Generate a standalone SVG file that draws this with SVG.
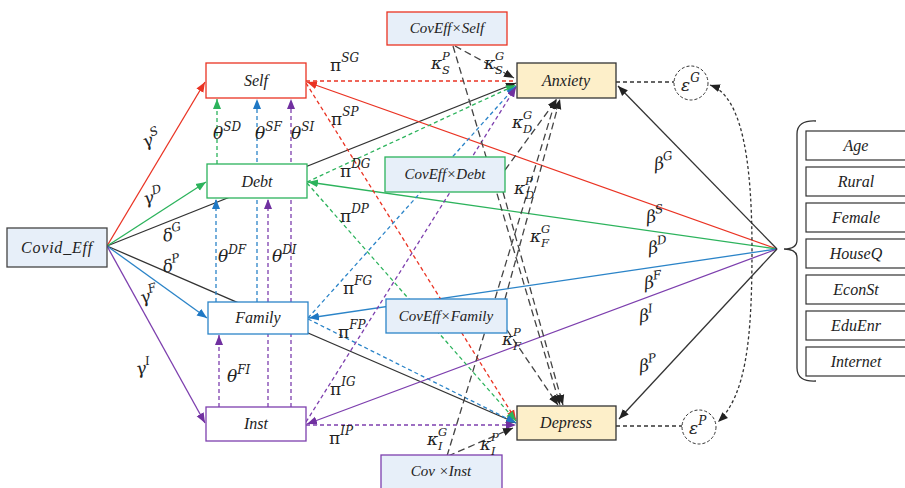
<svg xmlns="http://www.w3.org/2000/svg" width="905" height="488" viewBox="0 0 905 488">
<style>
.t{font-family:"Liberation Serif","DejaVu Serif",serif;font-style:italic;font-size:16px;fill:#222;text-anchor:middle}
.tc{font-family:"Liberation Serif","DejaVu Serif",serif;font-style:italic;font-size:15px;fill:#222;text-anchor:middle}
.m{font-family:"DejaVu Serif","Liberation Serif",serif;font-style:italic;font-size:17px;fill:#222}
.s{font-size:12px}
.ks{font-family:"DejaVu Serif","Liberation Serif",serif;font-style:italic;font-size:11.5px;fill:#222}
.up{font-style:normal}
.ln{fill:none;stroke-width:1.3}
.r{stroke:#ea3323}.g{stroke:#2cb35c}.b{stroke:#2b84c8}.p{stroke:#7d3fae}.k{stroke:#333}
.d{stroke-dasharray:4 3}
.kd{stroke-dasharray:7 4;stroke:#444}
.box{fill:#fff;stroke-width:1.3}
.cov{fill:#e7eff9;stroke-width:1.3}
.out{fill:#fdefc9;stroke:#333;stroke-width:1.3}
.ctl{fill:#fff;stroke:#333;stroke-width:1.2}
</style>
<defs>
<marker id="aR" viewBox="0 0 10 10" refX="10" refY="5" markerWidth="10" markerHeight="10" markerUnits="userSpaceOnUse" orient="auto"><path d="M0,1 L10,5 L0,9 z" fill="#ea3323"/></marker>
<marker id="aG" viewBox="0 0 10 10" refX="10" refY="5" markerWidth="10" markerHeight="10" markerUnits="userSpaceOnUse" orient="auto"><path d="M0,1 L10,5 L0,9 z" fill="#2cb35c"/></marker>
<marker id="aB" viewBox="0 0 10 10" refX="10" refY="5" markerWidth="10" markerHeight="10" markerUnits="userSpaceOnUse" orient="auto"><path d="M0,1 L10,5 L0,9 z" fill="#1f78c4"/></marker>
<marker id="aP" viewBox="0 0 10 10" refX="10" refY="5" markerWidth="10" markerHeight="10" markerUnits="userSpaceOnUse" orient="auto"><path d="M0,1 L10,5 L0,9 z" fill="#7030a0"/></marker>
<marker id="aK" viewBox="0 0 10 10" refX="10" refY="5" markerWidth="10" markerHeight="10" markerUnits="userSpaceOnUse" orient="auto-start-reverse"><path d="M0,1 L10,5 L0,9 z" fill="#222"/></marker>
</defs>
<rect width="905" height="488" fill="#fff"/>

<g id="connectors">
  <path class="ln k" d="M107,246 L516,83" marker-end="url(#aK)"/>
  <path class="ln k" d="M107,246 L516,423" marker-end="url(#aK)"/>
  <path class="ln r" d="M107,246 L205,82" marker-end="url(#aR)"/>
  <path class="ln g" d="M107,246 L206,182" marker-end="url(#aG)"/>
  <path class="ln b" d="M107,246 L207,318" marker-end="url(#aB)"/>
  <path class="ln p" d="M107,246 L205,423" marker-end="url(#aP)"/>
  <path class="ln r" d="M777,249 L307,82" marker-end="url(#aR)"/>
  <path class="ln g" d="M777,249 L308,182" marker-end="url(#aG)"/>
  <path class="ln b" d="M777,249 L309,318" marker-end="url(#aB)"/>
  <path class="ln p" d="M777,249 L307,424" marker-end="url(#aP)"/>
  <path class="ln k" d="M777,249 L618,86" marker-end="url(#aK)"/>
  <path class="ln k" d="M777,249 L619,419" marker-end="url(#aK)"/>
  <path class="ln r d" d="M306,81 L515,81"/>
  <path class="ln r d" d="M306,83 L516,420" marker-end="url(#aR)"/>
  <path class="ln g d" d="M307,182 L516,85" marker-end="url(#aG)"/>
  <path class="ln g d" d="M307,183 L516,421" marker-end="url(#aG)"/>
  <path class="ln b d" d="M308,318 L516,86" marker-end="url(#aB)"/>
  <path class="ln b d" d="M308,319 L516,423" marker-end="url(#aB)"/>
  <path class="ln p d" d="M306,422 L516,87" marker-end="url(#aP)"/>
  <path class="ln p d" d="M306,425 L516,425" marker-end="url(#aP)"/>
  <path class="ln g d" d="M217,164 L217,99" marker-end="url(#aG)"/>
  <path class="ln b d" d="M257,302 L257,99" marker-end="url(#aB)"/>
  <path class="ln p d" d="M291,407 L291,99" marker-end="url(#aP)"/>
  <path class="ln b d" d="M216,302 L216,199" marker-end="url(#aB)"/>
  <path class="ln p d" d="M268,407 L268,199" marker-end="url(#aP)"/>
  <path class="ln p d" d="M219,407 L219,335" marker-end="url(#aP)"/>
  <path class="ln kd" d="M455,46 L514,78" marker-end="url(#aK)"/>
  <path class="ln kd" d="M453,46 L560,405" marker-end="url(#aK)"/>
  <path class="ln kd" d="M505,170 L557,99" marker-end="url(#aK)"/>
  <path class="ln kd" d="M503,192 L563,405" marker-end="url(#aK)"/>
  <path class="ln kd" d="M505,299 L560,99" marker-end="url(#aK)"/>
  <path class="ln kd" d="M507,330 L558,405" marker-end="url(#aK)"/>
  <path class="ln kd" d="M447,456 L556,99" marker-end="url(#aK)"/>
  <path class="ln kd" d="M448,456 L513,428" marker-end="url(#aK)"/>
  <path class="ln k d" d="M616,82 L674,82"/>
  <path class="ln k d" d="M616,426 L682,426"/>
  <path class="ln k" stroke-dasharray="3 2.5" d="M710,85 C742,96 752,160 752,250 C752,340 746,395 718,422" marker-start="url(#aK)" marker-end="url(#aK)"/>
  <path class="ln k" stroke="#555" d="M816,121 Q797,120 797,134 L797,240 Q797,249 784,249 Q797,249 797,258 L797,368 Q797,382 816,381"/>
</g>

<g id="Covid_Eff"><rect class="cov" x="7" y="228" width="100" height="39" fill="#dce8f4" stroke="#444"/><text class="t" x="57" y="253" letter-spacing="0.8">Covid_Eff</text></g>
<g id="Self"><rect class="box" x="206" y="63" width="100" height="35" stroke="#ea3323"/><text class="t" x="256" y="86">Self</text></g>
<g id="Debt"><rect class="box" x="207" y="164" width="100" height="34" stroke="#2cb35c"/><text class="t" x="257" y="187">Debt</text></g>
<g id="Family"><rect class="box" x="208" y="302" width="100" height="32" stroke="#2b84c8"/><text class="t" x="258" y="323">Family</text></g>
<g id="Inst"><rect class="box" x="206" y="407" width="100" height="34" stroke="#7d3fae"/><text class="t" x="256" y="429">Inst</text></g>
<g id="Anxiety"><rect class="out" x="517" y="63" width="99" height="35"/><text class="t" x="566" y="86">Anxiety</text></g>
<g id="Depress"><rect class="out" x="517" y="406" width="99" height="34"/><text class="t" x="566" y="428">Depress</text></g>
<g id="CovEffSelf"><rect class="cov" x="387" y="12" width="120" height="33" stroke="#ea3323"/><text class="tc" x="447" y="33">CovEff×Self</text></g>
<g id="CovEffDebt"><rect class="cov" x="385" y="157" width="120" height="35" stroke="#2cb35c"/><text class="tc" x="445" y="179">CovEff×Debt</text></g>
<g id="CovEffFamily"><rect class="cov" x="386" y="299" width="121" height="34" stroke="#2b84c8"/><text class="tc" x="446" y="321">CovEff×Family</text></g>
<g id="CovInst"><rect class="cov" x="381" y="455" width="121" height="40" stroke="#7d3fae"/><text class="tc" x="441" y="476">Cov ×Inst</text></g>
<g id="epsG"><circle cx="691" cy="83" r="17" fill="#fff" stroke="#333" stroke-dasharray="3 2"/><text class="m" x="681" y="91" font-size="15">ε<tspan class="s" dy="-9">G</tspan></text></g>
<g id="epsP"><circle cx="699" cy="427" r="17" fill="#fff" stroke="#333" stroke-dasharray="3 2"/><text class="m" x="689" y="434" font-size="15">ε<tspan class="s" dy="-9">P</tspan></text></g>
<g id="controls">
  <g id="Age"><rect class="ctl" x="806" y="131" width="102" height="29"/><text class="t" x="856" y="151">Age</text></g>
  <g id="Rural"><rect class="ctl" x="806" y="167" width="102" height="29"/><text class="t" x="856" y="187">Rural</text></g>
  <g id="Female"><rect class="ctl" x="806" y="203" width="102" height="29"/><text class="t" x="856" y="223">Female</text></g>
  <g id="HouseQ"><rect class="ctl" x="806" y="239" width="102" height="29"/><text class="t" x="856" y="259">HouseQ</text></g>
  <g id="EconSt"><rect class="ctl" x="806" y="275" width="102" height="29"/><text class="t" x="856" y="295">EconSt</text></g>
  <g id="EduEnr"><rect class="ctl" x="806" y="311" width="102" height="29"/><text class="t" x="856" y="331">EduEnr</text></g>
  <g id="Internet"><rect class="ctl" x="806" y="347" width="102" height="29"/><text class="t" x="856" y="367">Internet</text></g>
</g>

<g id="edge-labels">
  <text class="m" transform="translate(145,148) rotate(-22)">γ<tspan class="s" dy="-8">S</tspan></text>
  <text class="m" transform="translate(145,205) rotate(-15)">γ<tspan class="s" dy="-8">D</tspan></text>
  <text class="m" transform="translate(164,242) rotate(-12)">δ<tspan class="s" dy="-8">G</tspan></text>
  <text class="m" transform="translate(164,273) rotate(-12)">δ<tspan class="s" dy="-8">P</tspan></text>
  <text class="m" transform="translate(142,304) rotate(-18)">γ<tspan class="s" dy="-8">F</tspan></text>
  <text class="m" transform="translate(137,375) rotate(-10)">γ<tspan class="s" dy="-8">I</tspan></text>

  <text class="m" transform="translate(655,170) rotate(-8)">β<tspan class="s" dy="-8">G</tspan></text>
  <text class="m" transform="translate(647,223) rotate(-8)">β<tspan class="s" dy="-8">S</tspan></text>
  <text class="m" transform="translate(649,254) rotate(-8)">β<tspan class="s" dy="-8">D</tspan></text>
  <text class="m" transform="translate(645,289) rotate(-8)">β<tspan class="s" dy="-8">F</tspan></text>
  <text class="m" transform="translate(640,322) rotate(-8)">β<tspan class="s" dy="-8">I</tspan></text>
  <text class="m" transform="translate(640,372) rotate(-8)">β<tspan class="s" dy="-8">P</tspan></text>

  <text class="m" x="213" y="139">θ<tspan class="s" dy="-8">SD</tspan></text>
  <text class="m" x="255" y="139">θ<tspan class="s" dy="-8">SF</tspan></text>
  <text class="m" x="291" y="139">θ<tspan class="s" dy="-8">SI</tspan></text>
  <text class="m" x="218" y="262">θ<tspan class="s" dy="-8">DF</tspan></text>
  <text class="m" x="272" y="262">θ<tspan class="s" dy="-8">DI</tspan></text>
  <text class="m" x="227" y="382">θ<tspan class="s" dy="-8">FI</tspan></text>

  <text class="m" x="330" y="71"><tspan class="up">π</tspan><tspan class="s" dy="-9">SG</tspan></text>
  <text class="m" x="331" y="125"><tspan class="up">π</tspan><tspan class="s" dy="-9">SP</tspan></text>
  <text class="m" x="340" y="177"><tspan class="up">π</tspan><tspan class="s" dy="-9">DG</tspan></text>
  <text class="m" x="340" y="222"><tspan class="up">π</tspan><tspan class="s" dy="-9">DP</tspan></text>
  <text class="m" x="343" y="294"><tspan class="up">π</tspan><tspan class="s" dy="-9">FG</tspan></text>
  <text class="m" x="338" y="338"><tspan class="up">π</tspan><tspan class="s" dy="-9">FP</tspan></text>
  <text class="m" x="330" y="395"><tspan class="up">π</tspan><tspan class="s" dy="-9">IG</tspan></text>
  <text class="m" x="329" y="444"><tspan class="up">π</tspan><tspan class="s" dy="-9">IP</tspan></text>

  <text class="m" x="431" y="69">κ</text><text class="ks" x="442" y="60">P</text><text class="ks" x="442" y="74">S</text>
  <text class="m" x="484" y="69">κ</text><text class="ks" x="495" y="60">G</text><text class="ks" x="495" y="74">S</text>
  <text class="m" x="512" y="128">κ</text><text class="ks" x="523" y="119">G</text><text class="ks" x="523" y="133">D</text>
  <text class="m" x="514" y="194">κ</text><text class="ks" x="525" y="185">P</text><text class="ks" x="525" y="199">D</text>
  <text class="m" x="530" y="242">κ</text><text class="ks" x="541" y="233">G</text><text class="ks" x="541" y="247">F</text>
  <text class="m" x="502" y="345">κ</text><text class="ks" x="513" y="336">P</text><text class="ks" x="513" y="350">F</text>
  <text class="m" x="427" y="445">κ</text><text class="ks" x="438" y="436">G</text><text class="ks" x="438" y="450">I</text>
  <text class="m" x="480" y="450">κ</text><text class="ks" x="491" y="441">P</text><text class="ks" x="491" y="455">I</text>
</g>
</svg>
